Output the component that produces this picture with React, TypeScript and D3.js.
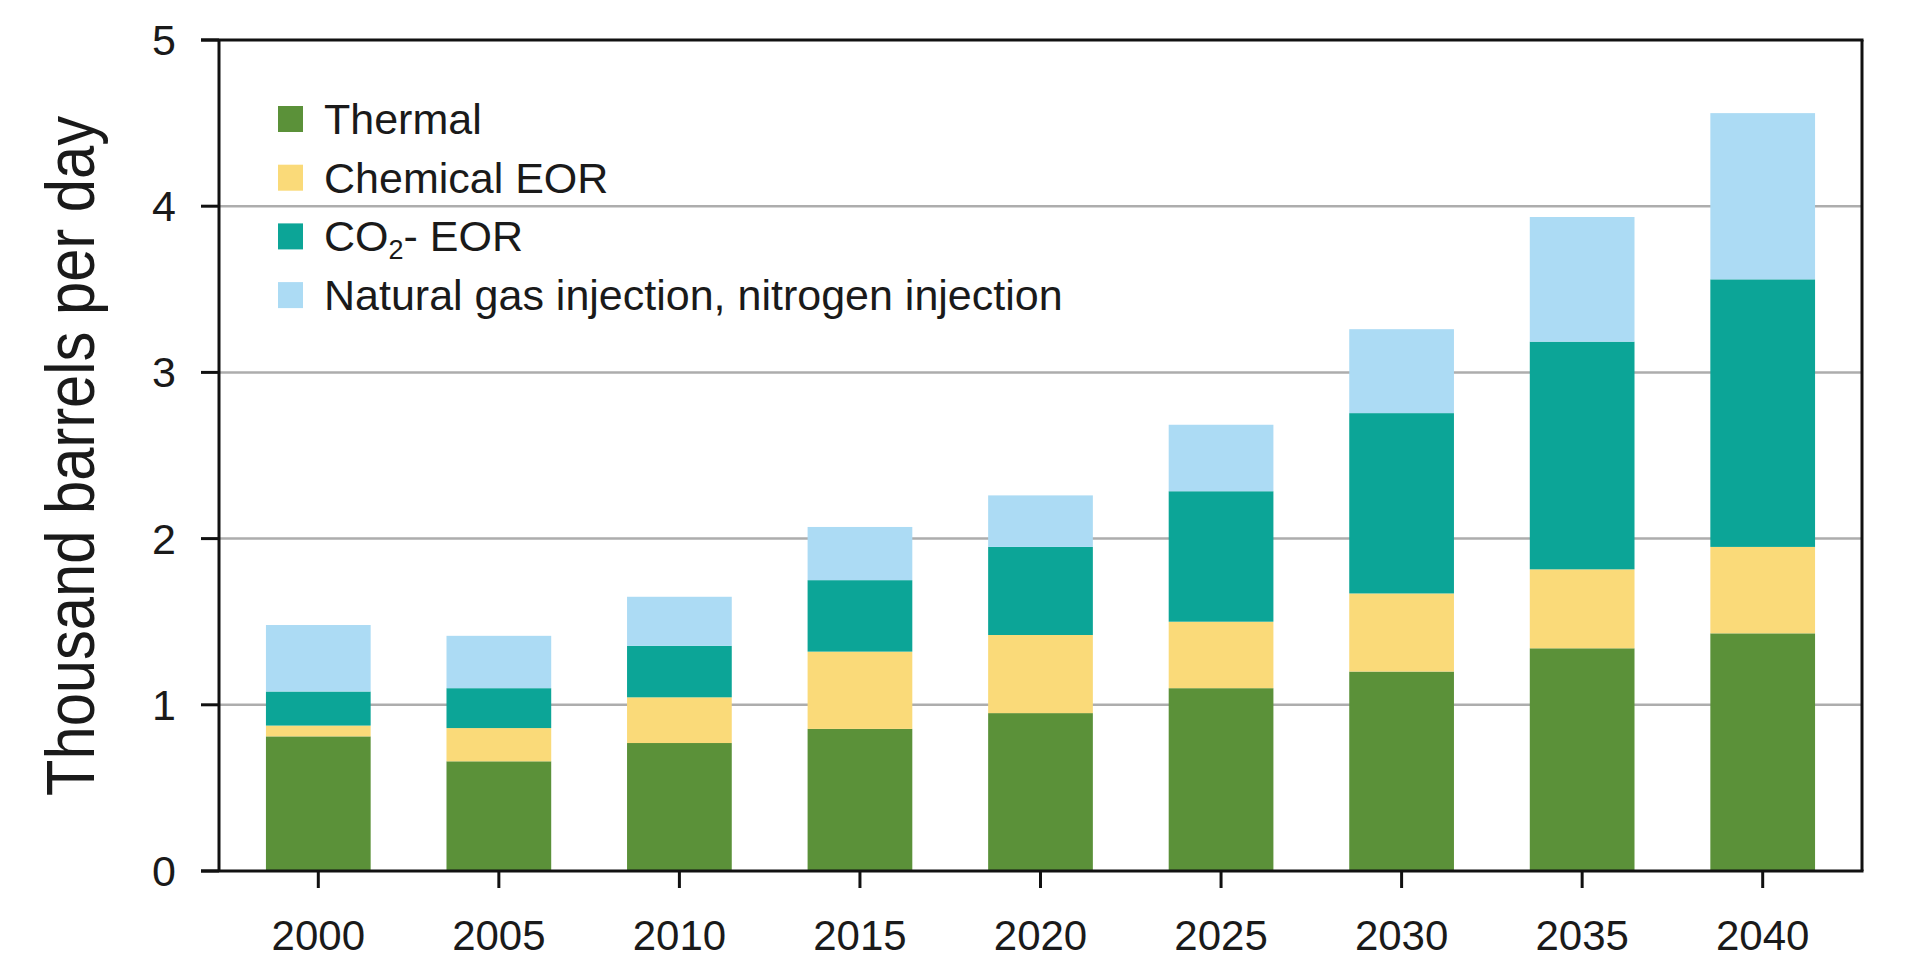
import React, { useEffect, useRef } from 'react'
import * as d3 from 'd3'

const years = ['2000', '2005', '2010', '2015', '2020', '2025', '2030', '2035', '2040']
const thermal = [0.81, 0.66, 0.77, 0.855, 0.95, 1.1, 1.2, 1.34, 1.43]
const chemicalEor = [0.065, 0.2, 0.275, 0.465, 0.47, 0.4, 0.47, 0.475, 0.52]
const co2Eor = [0.205, 0.24, 0.31, 0.43, 0.53, 0.785, 1.085, 1.37, 1.61]
const gasInjection = [0.4, 0.315, 0.295, 0.32, 0.31, 0.4, 0.505, 0.75, 1.0]
const yTicks = [0, 1, 2, 3, 4, 5]

const seriesKeys = ['thermal', 'chemical', 'co2', 'gas']
const seriesColors = ['#5b9139', '#fada79', '#0ca597', '#acdbf4']

const App: React.FC = () => {
  const svgRef = useRef<SVGSVGElement>(null)

  useEffect(() => {
    if (!svgRef.current) return
    const svg = d3.select(svgRef.current)
    svg.selectAll('*').remove()

    const width = 1920
    const height = 974
    const left = 219
    const right = 1862
    const top = 40
    const bottom = 871
    const font = "'Liberation Sans', Arial, Helvetica, sans-serif"

    svg.attr('width', width).attr('height', height)

    const x = d3.scaleBand<string>()
      .domain(years)
      .range([left, right])
      .paddingInner(0.42)
      .paddingOuter(0.26)

    const y = d3.scaleLinear().domain([0, 5]).range([bottom, top])

    // gridlines
    svg.append('g')
      .selectAll('line')
      .data(yTicks.filter(t => t > 0 && t < 5))
      .enter()
      .append('line')
      .attr('x1', left)
      .attr('x2', right)
      .attr('y1', d => y(d))
      .attr('y2', d => y(d))
      .attr('stroke', '#adadad')
      .attr('stroke-width', 2.5)

    // stacked bars
    const rows = years.map((yr, i) => ({
      year: yr,
      thermal: thermal[i],
      chemical: chemicalEor[i],
      co2: co2Eor[i],
      gas: gasInjection[i]
    }))
    const stacked = d3.stack<any>().keys(seriesKeys)(rows)

    svg.append('g')
      .selectAll('g')
      .data(stacked)
      .enter()
      .append('g')
      .attr('fill', (d, i) => seriesColors[i])
      .selectAll('rect')
      .data(d => d)
      .enter()
      .append('rect')
      .attr('x', d => x(d.data.year) as number)
      .attr('width', x.bandwidth())
      .attr('y', d => y(d[1]))
      .attr('height', d => y(d[0]) - y(d[1]))

    // frame
    const axisColor = '#111'
    svg.append('line')
      .attr('x1', left).attr('x2', left).attr('y1', top).attr('y2', bottom)
      .attr('stroke', axisColor).attr('stroke-width', 3)
    svg.append('line')
      .attr('x1', right).attr('x2', right).attr('y1', top).attr('y2', bottom)
      .attr('stroke', axisColor).attr('stroke-width', 3)
    svg.append('line')
      .attr('x1', left - 18).attr('x2', right + 1.5).attr('y1', bottom).attr('y2', bottom)
      .attr('stroke', axisColor).attr('stroke-width', 3)
    svg.append('line')
      .attr('x1', left - 18).attr('x2', right + 1.5).attr('y1', top).attr('y2', top)
      .attr('stroke', axisColor).attr('stroke-width', 3)

    // y ticks + labels
    const yAxis = svg.append('g')
    yAxis.selectAll('line')
      .data(yTicks)
      .enter()
      .append('line')
      .attr('x1', left - 18)
      .attr('x2', left)
      .attr('y1', d => y(d))
      .attr('y2', d => y(d))
      .attr('stroke', axisColor)
      .attr('stroke-width', 3)
    yAxis.selectAll('text')
      .data(yTicks)
      .enter()
      .append('text')
      .attr('x', left - 43)
      .attr('y', d => y(d) + 15)
      .attr('text-anchor', 'end')
      .style('font-family', font)
      .style('font-size', '43px')
      .style('fill', '#1a1a1a')
      .text(d => d)

    // x ticks + labels
    const xAxis = svg.append('g')
    xAxis.selectAll('line')
      .data(years)
      .enter()
      .append('line')
      .attr('x1', d => (x(d) as number) + x.bandwidth() / 2)
      .attr('x2', d => (x(d) as number) + x.bandwidth() / 2)
      .attr('y1', bottom)
      .attr('y2', bottom + 17)
      .attr('stroke', axisColor)
      .attr('stroke-width', 3)
    xAxis.selectAll('text')
      .data(years)
      .enter()
      .append('text')
      .attr('x', d => (x(d) as number) + x.bandwidth() / 2)
      .attr('y', 950)
      .attr('text-anchor', 'middle')
      .style('font-family', font)
      .style('font-size', '42px')
      .style('fill', '#1a1a1a')
      .text(d => d)

    // y axis title
    svg.append('text')
      .attr('transform', `translate(94, ${(116 + 796) / 2}) rotate(-90)`)
      .attr('text-anchor', 'middle')
      .attr('textLength', 680)
      .attr('lengthAdjust', 'spacingAndGlyphs')
      .style('font-family', font)
      .style('font-size', '68px')
      .style('fill', '#1a1a1a')
      .text('Thousand barrels per day')

    // legend
    const legendLabels = ['Thermal', 'Chemical EOR', 'CO2- EOR', 'Natural gas injection, nitrogen injection']
    const legend = svg.append('g').attr('transform', 'translate(278, 119)')
    legendLabels.forEach((label, i) => {
      const item = legend.append('g').attr('transform', `translate(0, ${i * 58.7})`)
      item.append('rect')
        .attr('x', 0)
        .attr('y', -13)
        .attr('width', 25)
        .attr('height', 26)
        .attr('fill', seriesColors[i])
      const t = item.append('text')
        .attr('x', 46)
        .attr('y', 15)
        .style('font-family', font)
        .style('font-size', '43px')
        .style('fill', '#1a1a1a')
      if (label.startsWith('CO2')) {
        t.append('tspan').text('CO')
        t.append('tspan')
          .attr('dy', 8)
          .style('font-size', '27px')
          .text('2')
        t.append('tspan').attr('dy', -8).text('- EOR')
      } else {
        t.text(label)
      }
    })
  }, [])

  return (
    <div style={{ position: 'absolute', left: 0, top: 0, background: '#fff' }}>
      <svg ref={svgRef} style={{ display: 'block' }}></svg>
    </div>
  )
}

export default App
